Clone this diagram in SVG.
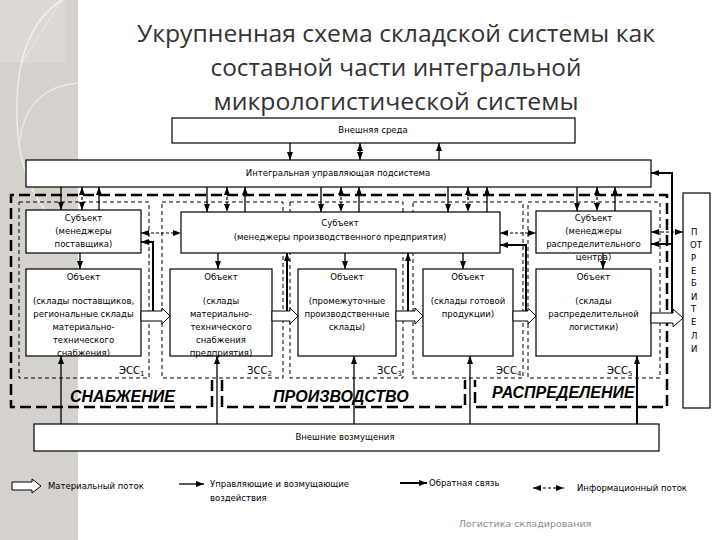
<svg xmlns="http://www.w3.org/2000/svg" width="720" height="540" viewBox="0 0 720 540">
<defs>
<style>
.box{fill:#fff;stroke:#000;stroke-width:1.2}
.t{font-family:"DejaVu Sans",sans-serif;font-size:8.5px;fill:#000;text-anchor:middle}
.tl{text-anchor:start}
.ttl{font-family:"Open Sans","Noto Sans",sans-serif;font-size:24px;fill:#333;text-anchor:middle}
.c{stroke:#000;stroke-width:1.3;fill:none}
.fb{stroke:#000;stroke-width:2;fill:none}
.info{stroke:#000;stroke-width:1.2;stroke-dasharray:3 2;fill:none}
.thick{stroke:#000;stroke-width:2.5;stroke-dasharray:11 5;fill:none}
.thin{stroke:#000;stroke-width:1;stroke-dasharray:4 3;fill:none}
.mat{fill:#fff;stroke:#000;stroke-width:1}
.reg{font-family:"Liberation Sans",Arial,sans-serif;font-weight:bold;font-style:italic;font-size:16px;fill:#000}
.ess{font-family:"DejaVu Sans",sans-serif;font-size:10px;fill:#000}
</style>
<marker id="ah" viewBox="0 0 8 6" refX="8" refY="3" markerWidth="8" markerHeight="6" markerUnits="userSpaceOnUse" orient="auto-start-reverse">
<path d="M0,0 L8,3 L0,6 z" fill="#000"/>
</marker>
</defs>
<rect width="720" height="540" fill="#fff"/>
<g id="background">
<rect x="0" y="0" width="78" height="540" fill="#d5d2ce"/>
<rect x="0" y="0" width="65" height="63" fill="#dcd9d5"/>
<path d="M62,0 C30,20 15,60 17,120 C18,160 30,190 45,210" fill="none" stroke="#fff" stroke-opacity="0.6" stroke-width="1.5"/>
<path d="M20,140 C25,100 50,85 78,83" fill="none" stroke="#fff" stroke-opacity="0.5" stroke-width="1.5"/>
<path d="M22,62 C35,40 50,20 62,0" fill="none" stroke="#fff" stroke-opacity="0.4" stroke-width="1"/>
</g>
<g id="title">
<text class="ttl" x="396" y="42" textLength="518" lengthAdjust="spacingAndGlyphs">Укрупненная схема складской системы как</text>
<text class="ttl" x="396" y="76" textLength="371" lengthAdjust="spacingAndGlyphs">составной части интегральной</text>
<text class="ttl" x="396" y="110" textLength="365" lengthAdjust="spacingAndGlyphs">микрологистической системы</text>
</g>
<g id="regions">
<path class="thick" d="M212,380 V407 H11 V195 H667 V407 H475 V380 M222,380 V407 H465 V380"/>
<rect class="thin" x="19" y="202" width="130" height="176"/>
<rect class="thin" x="162" y="202" width="121" height="176"/>
<rect class="thin" x="290" y="202" width="113" height="176"/>
<rect class="thin" x="413" y="202" width="110" height="176"/>
<rect class="thin" x="528" y="202" width="132" height="176"/>
<text class="ess" x="119" y="374">ЭСС<tspan font-size="7" dy="2">1</tspan></text>
<text class="ess" x="247" y="374">ЗСС<tspan font-size="7" dy="2">2</tspan></text>
<text class="ess" x="377" y="374">ЗСС<tspan font-size="7" dy="2">3</tspan></text>
<text class="ess" x="496" y="374">ЭСС<tspan font-size="7" dy="2">4</tspan></text>
<text class="ess" x="607" y="374">ЭСС<tspan font-size="7" dy="2">5</tspan></text>
<text class="reg" x="70" y="402">СНАБЖЕНИЕ</text>
<text class="reg" x="273" y="402">ПРОИЗВОДСТВО</text>
<text class="reg" x="492" y="398">РАСПРЕДЕЛЕНИЕ</text>
</g>
<g id="env">
<rect class="box" x="172" y="118" width="403" height="25"/>
<text class="t" x="373" y="133">Внешняя среда</text>
</g>
<g id="integ">
<rect class="box" x="26" y="160" width="625" height="27"/>
<text class="t" x="338" y="176">Интегральная управляющая подсистема</text>
</g>
<g id="sub1">
<rect class="box" x="26" y="210" width="115" height="43"/>
<text class="t" x="83.5" y="221">Субъект</text>
<text class="t" x="83.5" y="234">(менеджеры</text>
<text class="t" x="83.5" y="247">поставщика)</text>
</g>
<g id="sub2">
<rect class="box" x="181" y="212" width="319" height="41"/>
<text class="t" x="340" y="226">Субъект</text>
<text class="t" x="340" y="240">(менеджеры производственного предприятия)</text>
</g>
<g id="sub5">
<rect class="box" x="536" y="211" width="115" height="42"/>
<text class="t" x="593.5" y="221">Субъект</text>
<text class="t" x="593.5" y="234">(менеджеры</text>
<text class="t" x="593.5" y="247">распределительного</text>
<text class="t" x="593.5" y="260">центра)</text>
</g>
<g id="obj1">
<rect class="box" x="26" y="269" width="115" height="87"/>
<text class="t" x="83.5" y="280">Объект</text>
<text class="t" x="83.5" y="304">(склады поставщиков,</text>
<text class="t" x="83.5" y="317">региональные склады</text>
<text class="t" x="83.5" y="330">материально-</text>
<text class="t" x="83.5" y="343">технического</text>
<text class="t" x="83.5" y="356">снабжения)</text>
</g>
<g id="obj2">
<rect class="box" x="170" y="269" width="102" height="87"/>
<text class="t" x="221" y="280">Объект</text>
<text class="t" x="221" y="304">(склады</text>
<text class="t" x="221" y="317">материально-</text>
<text class="t" x="221" y="330">технического</text>
<text class="t" x="221" y="343">снабжения</text>
<text class="t" x="221" y="356">предприятия)</text>
</g>
<g id="obj3">
<rect class="box" x="298" y="269" width="98" height="87"/>
<text class="t" x="347" y="280">Объект</text>
<text class="t" x="347" y="304">(промежуточные</text>
<text class="t" x="347" y="317">производственные</text>
<text class="t" x="347" y="330">склады)</text>
</g>
<g id="obj4">
<rect class="box" x="423" y="269" width="90" height="87"/>
<text class="t" x="468" y="280">Объект</text>
<text class="t" x="468" y="304">(склады готовой</text>
<text class="t" x="468" y="317">продукции)</text>
</g>
<g id="obj5">
<rect class="box" x="536" y="269" width="115" height="87"/>
<text class="t" x="593.5" y="280">Объект</text>
<text class="t" x="593.5" y="304">(склады</text>
<text class="t" x="593.5" y="317">распределительной</text>
<text class="t" x="593.5" y="330">логистики)</text>
</g>
<g id="consumers">
<rect class="box" x="683" y="193" width="27" height="215"/>
<text class="t tl" x="691" y="235">П</text>
<text class="t tl" x="690" y="248">ОТ</text>
<text class="t tl" x="691" y="261">Р</text>
<text class="t tl" x="691" y="274">Е</text>
<text class="t tl" x="691" y="286">Б</text>
<text class="t tl" x="691" y="300">И</text>
<text class="t tl" x="691" y="312">Т</text>
<text class="t tl" x="691" y="325">Е</text>
<text class="t tl" x="691" y="339">Л</text>
<text class="t tl" x="691" y="352">И</text>
</g>
<g id="vozm">
<rect class="box" x="34" y="424" width="625" height="27"/>
<text class="t" x="345" y="440">Внешние возмущения</text>
</g>
<g id="connectors">
<path class="c" d="M290,143 V160" marker-end="url(#ah)"/>
<path class="c" d="M360,143 V160" marker-start="url(#ah)" marker-end="url(#ah)"/>
<path class="c" d="M439,160 V143" marker-end="url(#ah)"/>
<path class="c" d="M61,187 V210" marker-end="url(#ah)"/>
<path class="info" d="M82,187 V210" marker-start="url(#ah)" marker-end="url(#ah)"/>
<path class="c" d="M99,210 V187" marker-end="url(#ah)"/>
<path class="c" d="M207,187 V212" marker-end="url(#ah)"/>
<path class="info" d="M227,187 V212" marker-start="url(#ah)" marker-end="url(#ah)"/>
<path class="c" d="M245,212 V187" marker-end="url(#ah)"/>
<path class="c" d="M321,187 V212" marker-end="url(#ah)"/>
<path class="info" d="M341,187 V212" marker-start="url(#ah)" marker-end="url(#ah)"/>
<path class="c" d="M359,212 V187" marker-end="url(#ah)"/>
<path class="c" d="M448,187 V212" marker-end="url(#ah)"/>
<path class="info" d="M468,187 V212" marker-start="url(#ah)" marker-end="url(#ah)"/>
<path class="c" d="M487,212 V187" marker-end="url(#ah)"/>
<path class="c" d="M577,187 V211" marker-end="url(#ah)"/>
<path class="info" d="M597,187 V211" marker-start="url(#ah)" marker-end="url(#ah)"/>
<path class="c" d="M615,211 V187" marker-end="url(#ah)"/>
<path class="info" d="M141,233 H181" marker-start="url(#ah)" marker-end="url(#ah)"/>
<path class="info" d="M500,233 H536" marker-start="url(#ah)" marker-end="url(#ah)"/>
<path class="info" d="M651,232 H683" marker-start="url(#ah)" marker-end="url(#ah)"/>
<path class="c" d="M80,253 V269" marker-end="url(#ah)"/>
<path class="c" d="M218,253 V269" marker-end="url(#ah)"/>
<path class="c" d="M345,253 V269" marker-end="url(#ah)"/>
<path class="c" d="M463,253 V269" marker-end="url(#ah)"/>
<path class="c" d="M603,253 V269" marker-end="url(#ah)"/>
<path class="fb" d="M153,311 V242 H141" marker-end="url(#ah)"/>
<path class="fb" d="M287,311 V253" marker-end="url(#ah)"/>
<path class="fb" d="M408,311 V253" marker-end="url(#ah)"/>
<path class="fb" d="M526,311 V245 H500" marker-end="url(#ah)"/>
<path class="fb" d="M672,313 V173 H651" marker-end="url(#ah)"/>
<path class="fb" d="M672,244 H651" marker-end="url(#ah)"/>
<path class="c" d="M61,424 V356" marker-end="url(#ah)"/>
<path class="c" d="M217,424 V356" marker-end="url(#ah)"/>
<path class="c" d="M354,424 V356" marker-end="url(#ah)"/>
<path class="c" d="M470,424 V356" marker-end="url(#ah)"/>
<path class="fb" d="M637,424 V356" marker-end="url(#ah)"/>
<polygon class="mat" points="141,311 162,311 162,308 170,316 162,324 162,321 141,321"/>
<polygon class="mat" points="272,311 290,311 290,308 298,316 290,324 290,321 272,321"/>
<polygon class="mat" points="396,311 415,311 415,308 423,316 415,324 415,321 396,321"/>
<polygon class="mat" points="513,311 528,311 528,308 536,316 528,324 528,321 513,321"/>
<polygon class="mat" points="651,313 673,313 673,309 683,318 673,327 673,323 651,323"/>
</g>
<g id="legend">
<polygon class="mat" points="12,482 32,482 32,479 41,486 32,493 32,490 12,490"/>
<text class="t tl" x="48" y="489">Материальный поток</text>
<path class="c" d="M179,484 H204" marker-end="url(#ah)"/>
<text class="t tl" x="210" y="487">Управляющие и возмущающие</text>
<text class="t tl" x="210" y="501">воздействия</text>
<path class="fb" d="M400,483 H427" marker-end="url(#ah)"/>
<text class="t tl" x="429" y="486">Обратная связь</text>
<path class="info" d="M533,488 H564" marker-start="url(#ah)" marker-end="url(#ah)"/>
<text class="t tl" x="577" y="491">Информационный поток</text>
<text class="t" x="525" y="527" style="font-size:9.5px;fill:#8a8a8a">Логистика складирования</text>
</g>
</svg>
